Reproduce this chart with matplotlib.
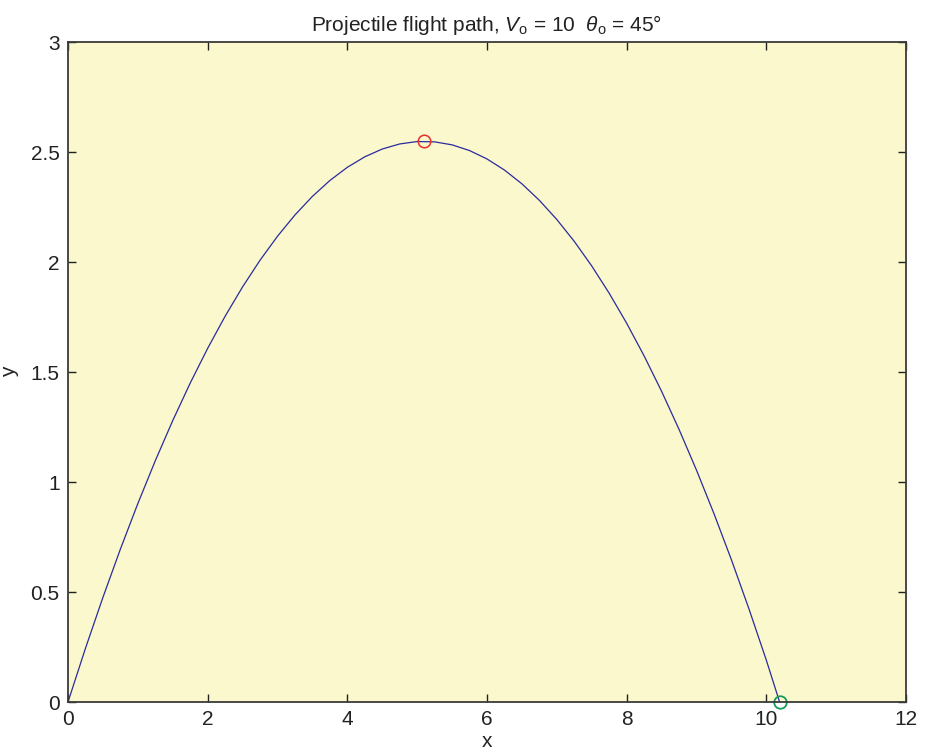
import matplotlib
matplotlib.use("Agg")
import matplotlib.pyplot as plt

# Trajectory points (x, y)
PATH_X = [0.0, 0.25, 0.5, 0.75, 1.0, 1.25, 1.5, 1.75, 2.0, 2.25, 2.5, 2.75,
          3.0, 3.25, 3.5, 3.75, 4.0, 4.25, 4.5, 4.75, 5.0, 5.25, 5.5,
          5.75, 6.0, 6.25, 6.5, 6.75, 7.0, 7.25, 7.5, 7.75, 8.0, 8.25, 8.5,
          8.75, 9.0, 9.25, 9.5, 9.75, 10.0, 10.19]
PATH_Y = [0.0, 0.2439, 0.4755, 0.6948, 0.9019, 1.0967, 1.2793, 1.4496, 1.6076,
          1.7534, 1.8869, 2.0081, 2.1171, 2.2138, 2.2983, 2.3705, 2.4304,
          2.4781, 2.5135, 2.5366, 2.5475, 2.5461, 2.5325, 2.5066, 2.4684,
          2.4180, 2.3553, 2.2803, 2.1931, 2.0936, 1.9819, 1.8579, 1.7216,
          1.5731, 1.4123, 1.2392, 1.0539, 0.8563, 0.6465, 0.4244, 0.1900, 0.0]
APEX = (5.1, 2.548)
LANDING = (10.19, 0.0)

XTICKS = [0, 2, 4, 6, 8, 10, 12]
YTICKS = [0, 0.5, 1, 1.5, 2, 2.5, 3]
YTICKLABELS = ["0", "0.5", "1", "1.5", "2", "2.5", "3"]

BG = "#faf8cc"
LINE = "#2b2b9e"
RED = "#e8302a"
GREEN = "#1a9a5a"
INK = "#222222"

plt.rcParams.update({
    "font.family": "Liberation Sans",
    "mathtext.fontset": "custom",
    "mathtext.rm": "Liberation Sans",
    "mathtext.it": "Liberation Sans:italic",
    "lines.antialiased": True,
})

fig = plt.figure(figsize=(9.29, 7.54), dpi=100)
ax = fig.add_axes([68 / 929, 1 - 702 / 754, (906 - 68) / 929, (702 - 42) / 754])
ax.set_facecolor(BG)

ax.plot(PATH_X, PATH_Y, color=LINE, lw=0.9, solid_joinstyle="round")
ax.plot(*APEX, "o", mfc="none", mec=RED, ms=9, mew=1.1)
ax.plot(*LANDING, "o", mfc="none", mec=GREEN, ms=9, mew=1.3, clip_on=False)

ax.set_xlim(0, 12)
ax.set_ylim(0, 3)
ax.set_xticks(XTICKS)
ax.set_xticklabels([str(t) for t in XTICKS])
ax.set_yticks(YTICKS)
ax.set_yticklabels(YTICKLABELS)
ax.tick_params(direction="in", length=6, width=1, top=True, right=True,
               labelsize=15, colors=INK, pad=6)
for s in ax.spines.values():
    s.set_color("#3a3a3a")
    s.set_linewidth(1.3)

ax.set_xlabel("x", fontsize=15, color=INK, labelpad=2)
ax.set_ylabel("y", fontsize=15, color=INK, labelpad=8)
ax.set_title(r"Projectile flight path, $V_\mathrm{o}$ = 10  $\theta_\mathrm{o}$ = 45°",
             fontsize=15, color=INK, pad=8)

fig.savefig("out.png", dpi=100, facecolor="white")
